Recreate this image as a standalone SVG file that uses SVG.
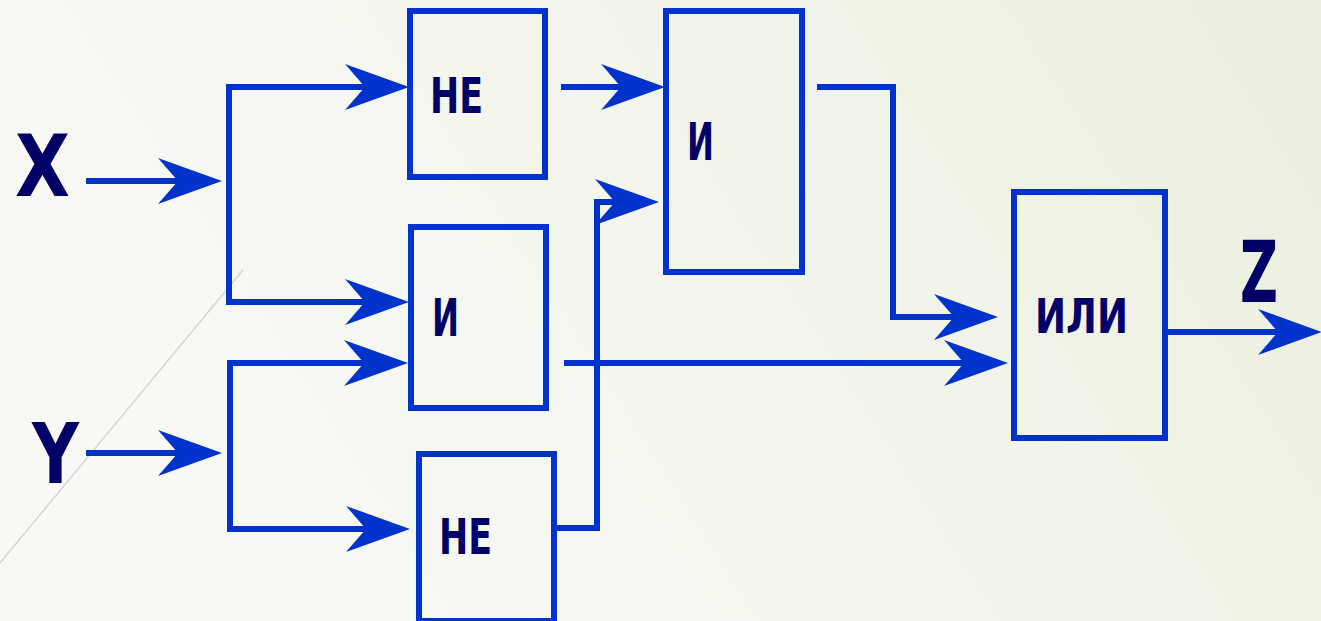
<svg xmlns="http://www.w3.org/2000/svg" width="1321" height="621" viewBox="0 0 1321 621">
  <defs>
    <linearGradient id="bg" x1="0" y1="0.3" x2="1" y2="0">
      <stop offset="0" stop-color="#f8f9f5"/>
      <stop offset="0.5" stop-color="#f3f5ec"/>
      <stop offset="1" stop-color="#eaefdc"/>
    </linearGradient>
    <!-- concave arrowhead, tip sits 40px beyond the end of the line -->
    <marker id="head" markerUnits="userSpaceOnUse" markerWidth="64" markerHeight="46" viewBox="0 0 64 46" refX="24" refY="23" orient="auto">
      <path d="M0,0 L64,23 L0,46 L20,23 Z" fill="#0033cc"/>
    </marker>
    <style>
      .gate { fill: none; stroke: #0033cc; stroke-width: 6; }
      .wire { fill: none; stroke: #0033cc; stroke-width: 6; stroke-linejoin: miter; }
      .arrow { marker-end: url(#head); }
      .lbl { font-family: "DejaVu Sans", "Liberation Sans", sans-serif; font-weight: bold; fill: #000066; }
    </style>
  </defs>

  <rect width="1321" height="621" fill="url(#bg)"/>
  <line x1="243" y1="270" x2="0" y2="563" stroke="#d6d6cc" stroke-width="1.5"/>

  <g id="connectors">
    <path class="wire arrow" d="M86,181 H182"/>
    <path class="wire arrow" d="M229,305 V87 H369"/>
    <path class="wire arrow" d="M226,302 H369"/>
    <path class="wire arrow" d="M86,453 H182"/>
    <path class="wire arrow" d="M230,532 V363 H368"/>
    <path class="wire arrow" d="M227,529 H370"/>
    <path class="wire arrow" d="M561,87 H625"/>
    <path class="wire arrow" d="M557,528 H597 V202 H619"/>
    <path class="wire arrow" d="M564,363 H968"/>
    <path class="wire arrow" d="M817,87 H893 V317 H958"/>
    <path class="wire arrow" d="M1168,332 H1282"/>
  </g>

  <g id="input-x">
    <text class="lbl" x="15" y="196" font-size="86" textLength="55" lengthAdjust="spacingAndGlyphs">X</text>
  </g>
  <g id="input-y">
    <text class="lbl" x="32" y="483" font-size="84" textLength="47" lengthAdjust="spacingAndGlyphs">Y</text>
  </g>
  <g id="output-z">
    <text class="lbl" x="1240" y="302" font-size="85" textLength="38" lengthAdjust="spacingAndGlyphs">Z</text>
  </g>

  <g id="not-x">
    <rect class="gate" x="410" y="11" width="135" height="166"/>
    <text class="lbl" x="430" y="113" font-size="49" textLength="53" lengthAdjust="spacingAndGlyphs">НЕ</text>
  </g>
  <g id="and-top">
    <rect class="gate" x="666" y="11" width="136" height="261"/>
    <text class="lbl" x="687" y="160" font-size="51" textLength="27" lengthAdjust="spacingAndGlyphs">И</text>
  </g>
  <g id="and-mid">
    <rect class="gate" x="411" y="227" width="135" height="181"/>
    <text class="lbl" x="432" y="336" font-size="51" textLength="27" lengthAdjust="spacingAndGlyphs">И</text>
  </g>
  <g id="not-y">
    <rect class="gate" x="419" y="454" width="135" height="167"/>
    <text class="lbl" x="439" y="554" font-size="49" textLength="53" lengthAdjust="spacingAndGlyphs">НЕ</text>
  </g>
  <g id="or">
    <rect class="gate" x="1014" y="192" width="151" height="246"/>
    <text class="lbl" x="1035" y="333" font-size="48" textLength="93" lengthAdjust="spacingAndGlyphs">ИЛИ</text>
  </g>
</svg>
